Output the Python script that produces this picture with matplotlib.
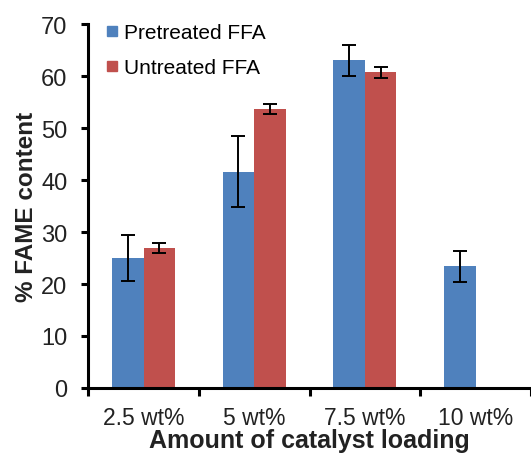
import numpy as np
import matplotlib
matplotlib.use('Agg')
import matplotlib.pyplot as plt
from matplotlib.lines import Line2D

# data
categories = ['2.5 wt%', '5 wt%', '7.5 wt%', '10 wt%']
pretreated = [25.0, 41.6, 63.0, 23.4]
pretreated_err = [4.5, 6.8, 3.0, 3.0]
untreated = [26.9, 53.7, 60.7, np.nan]
untreated_err = [1.0, 1.0, 1.0, np.nan]
series_names = ['Pretreated FFA', 'Untreated FFA']

blue = '#4F81BD'
red = '#C0504D'

plt.rcParams['font.family'] = ['Liberation Sans', 'DejaVu Sans']

fig = plt.figure(figsize=(5.31, 4.56), dpi=100)
ax = fig.add_axes([0.166, 0.147, 0.834, 0.798])

x = np.arange(len(categories))
w = 0.285
err_kw = dict(ecolor='black', elinewidth=1.4, capsize=4.7, capthick=1.4)
ax.bar(x - w / 2, pretreated, w, color=blue, yerr=pretreated_err, error_kw=err_kw)
ax.bar(x + w / 2, untreated, w, color=red, yerr=untreated_err, error_kw=err_kw)

ax.set_xlim(-0.5, len(categories) - 0.5)
ax.set_ylim(0, 70)
ax.set_yticks(np.arange(0, 71, 10))

# major x ticks at category borders, labels on minor ticks at centres
ax.set_xticks(np.arange(-0.5, len(categories), 1.0))
ax.set_xticklabels([])
ax.set_xticks(x, minor=True)
ax.set_xticklabels(categories, minor=True, fontsize=16.5, color='#222222')
ax.tick_params(axis='x', which='major', length=6, width=2.2, direction='out')
ax.tick_params(axis='x', which='minor', length=0, pad=13)
ax.tick_params(axis='y', length=5, width=2.2, direction='out', labelsize=17,
               labelcolor='#222222', pad=10)

for s in ['top', 'right']:
    ax.spines[s].set_visible(False)
for s in ['left', 'bottom']:
    ax.spines[s].set_linewidth(2.2)

ax.set_ylabel('% FAME content', fontsize=17.5, fontweight='bold', color='#222222', labelpad=2)
ax.set_xlabel('Amount of catalyst loading', fontsize=18, fontweight='bold', color='#222222', labelpad=-1)

handles = [Line2D([], [], marker='s', linestyle='', markersize=6.5, color=c) for c in (blue, red)]
ax.legend(handles, series_names, loc='upper left', bbox_to_anchor=(0.02, 1.025),
          frameon=False, fontsize=15, handlelength=0.6, handletextpad=0.3,
          labelspacing=0.75, borderaxespad=0)

fig.savefig('out.png', dpi=100)
